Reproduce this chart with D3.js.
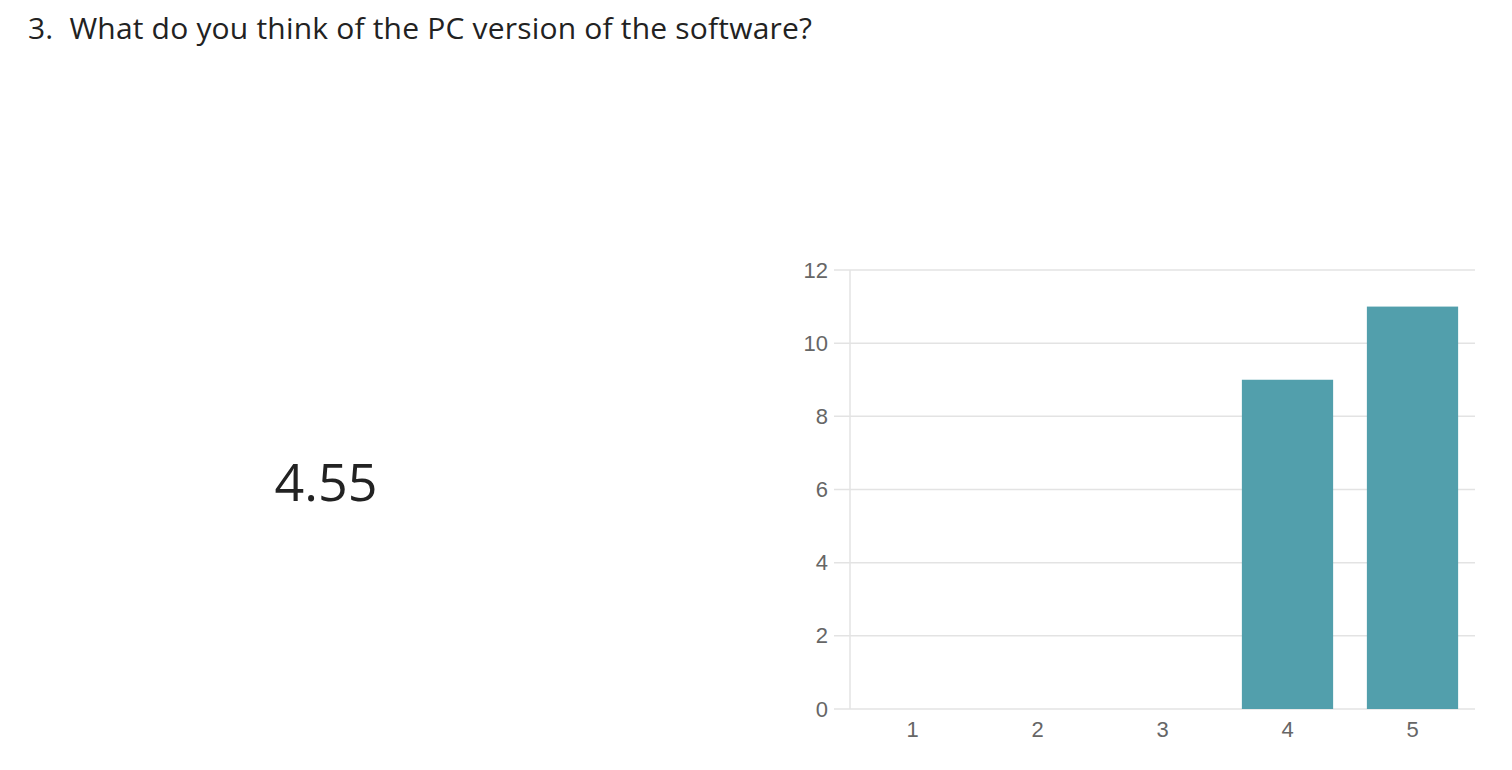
<!DOCTYPE html>
<html>
<head>
<meta charset="utf-8">
<script src="https://cdn.jsdelivr.net/npm/d3@7/dist/d3.min.js"></script>
<style>
  html, body { margin: 0; padding: 0; background: #fff; }
  svg { display: block; }
</style>
</head>
<body>
<svg id="chart" width="1512" height="770"></svg>
<script>
const categories = ["1", "2", "3", "4", "5"];
const counts = [0, 0, 0, 9, 11];
const yTicks = [0, 2, 4, 6, 8, 10, 12];
const titleText = "3.\u00a0 What do you think of the PC version of the software?";
const averageText = "4.55";

(function () {
const svg = d3.select("#chart");

svg.append("text")
  .attr("x", 28).attr("y", 39)
  .attr("font-family", "'Open Sans', 'Noto Sans', sans-serif")
  .attr("font-size", 30)
  .attr("textLength", 784)
  .attr("lengthAdjust", "spacing")
  .attr("fill", "#222")
  .text(titleText);

svg.append("text")
  .attr("x", 326).attr("y", 501)
  .attr("text-anchor", "middle")
  .attr("font-family", "'Open Sans', 'Noto Sans', sans-serif")
  .attr("font-size", 52)
  .attr("fill", "#222")
  .text(averageText);

const pLeft = 850, pRight = 1475, pTop = 270, pBottom = 709;

const x = d3.scaleBand().domain(categories).range([pLeft, pRight]).paddingInner(0.27).paddingOuter(0.135);
const y = d3.scaleLinear().domain([0, 12]).range([pBottom, pTop]);

const g = svg.append("g");

g.selectAll("line.grid").data(yTicks).join("line")
  .attr("class", "grid")
  .attr("x1", pLeft - 16).attr("x2", pRight)
  .attr("y1", d => y(d)).attr("y2", d => y(d))
  .attr("stroke", "#e3e3e3").attr("stroke-width", 1.5);

g.append("line")
  .attr("x1", pLeft).attr("x2", pLeft)
  .attr("y1", pTop).attr("y2", pBottom)
  .attr("stroke", "#e3e3e3").attr("stroke-width", 1.5);

const yAxis = d3.axisLeft(y).tickValues(yTicks).tickSize(0).tickPadding(22);
const ya = g.append("g").attr("transform", `translate(${pLeft},0)`).call(yAxis);
ya.select(".domain").remove();
ya.attr("font-size", 22).attr("font-family", "'Liberation Sans', Arial, sans-serif");
ya.selectAll("text").attr("fill", "#666");

g.selectAll("rect.bar").data(categories.map((c, i) => ({c, v: counts[i]}))).join("rect")
  .attr("class", "bar")
  .attr("x", d => x(d.c))
  .attr("width", x.bandwidth())
  .attr("y", d => y(d.v))
  .attr("height", d => y(0) - y(d.v))
  .attr("fill", "#529fac");

const xAxis = d3.axisBottom(x).tickSize(0).tickPadding(12);
const xa = g.append("g").attr("transform", `translate(0,${pBottom})`).call(xAxis);
xa.select(".domain").remove();
xa.attr("font-size", 22).attr("font-family", "'Liberation Sans', Arial, sans-serif");
xa.selectAll("text").attr("fill", "#666");
})();
</script>
</body>
</html>
